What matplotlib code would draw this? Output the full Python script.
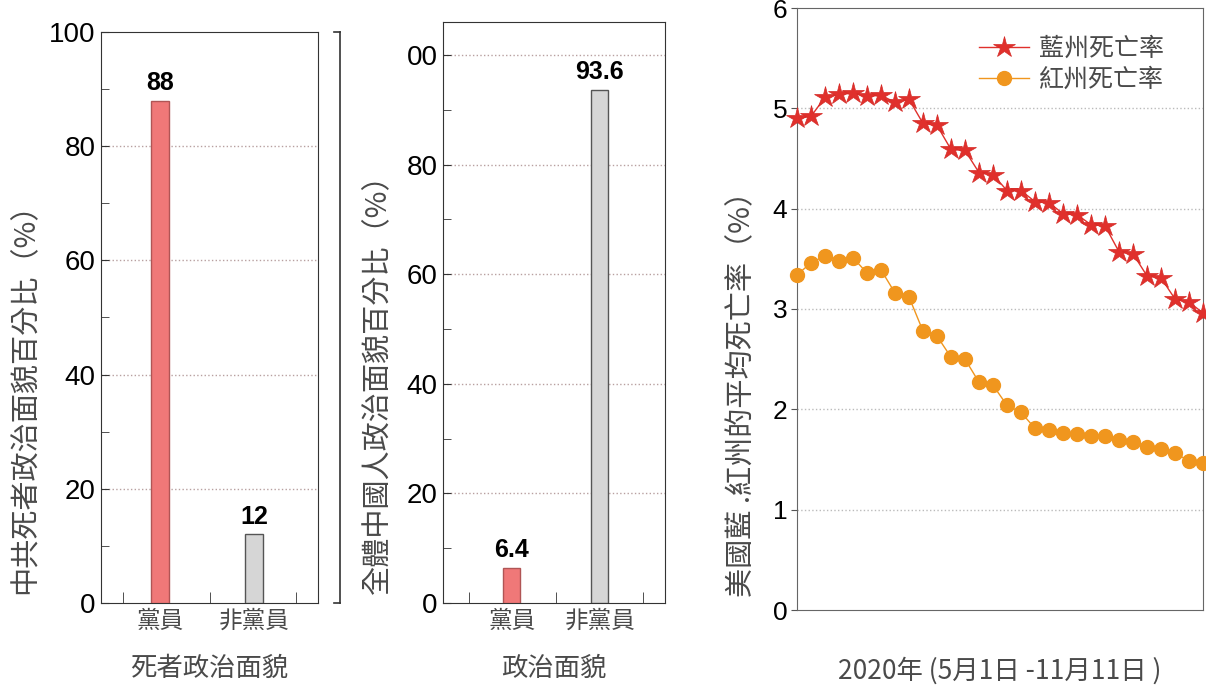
import matplotlib
matplotlib.use("Agg")
import matplotlib.pyplot as plt
from matplotlib.lines import Line2D

plt.rcParams['font.family'] = ['Liberation Sans', 'Noto Sans CJK TC', 'DejaVu Sans']

# data
cats = ['黨員', '非黨員']
dead_pct = [88, 12]
all_pct = [6.4, 93.6]
dead_labels = ['88', '12']
all_labels = ['6.4', '93.6']

blue_rate = [4.90, 4.92, 5.11, 5.14, 5.15, 5.12, 5.13, 5.06, 5.09, 4.85,
             4.83, 4.59, 4.58, 4.36, 4.34, 4.18, 4.18, 4.07, 4.06, 3.95,
             3.94, 3.84, 3.83, 3.57, 3.55, 3.33, 3.31, 3.10, 3.07, 2.96]
red_rate = [3.34, 3.46, 3.53, 3.48, 3.51, 3.36, 3.39, 3.16, 3.12, 2.78,
            2.73, 2.52, 2.50, 2.27, 2.24, 2.04, 1.97, 1.81, 1.79, 1.76,
            1.75, 1.73, 1.73, 1.69, 1.67, 1.62, 1.60, 1.56, 1.49, 1.47]

cjk = ['Noto Sans CJK TC', 'DejaVu Sans']
txt_gray = '#4a4a4a'
bar_colors = ['#f07878', '#d6d6d6']
bar_edges = ['#b05555', '#555555']

fig = plt.figure(figsize=(12.06, 6.9), dpi=100)


def bar_panel(rect, vals, labels, ylim, xlim, minor_x, ylabel, xlabel, ytl, grid_vals):
    ax = fig.add_axes(rect)
    pos = [1, 2]
    ax.bar(pos, vals, width=0.19, color=bar_colors, edgecolor=bar_edges, linewidth=1, zorder=3)
    for p, v, s in zip(pos, vals, labels):
        ax.text(p, v + 1.0, s, ha='center', va='bottom', fontsize=18, fontweight='bold', color='black')
    ax.set_xlim(*xlim)
    ax.set_ylim(*ylim)
    ax.set_xticks(pos)
    ax.set_xticklabels(cats, family=cjk, fontsize=17, color=txt_gray)
    ax.set_xticks(minor_x, minor=True)
    ax.tick_params(axis='x', which='major', length=0, pad=5)
    ax.tick_params(axis='x', which='minor', direction='in', length=8, color='#333333')
    ax.set_yticks([0, 20, 40, 60, 80, 100])
    ax.set_yticklabels(ytl, fontsize=20)
    ax.set_yticks([10, 30, 50, 70, 90], minor=True)
    ax.tick_params(axis='y', which='both', direction='in', length=6, color='#333333', pad=4)
    for g in grid_vals:
        ax.axhline(g, color='#b8a0a0', linestyle=':', linewidth=1, zorder=1)
    for sp in ax.spines.values():
        sp.set_color('#333333')
    ax.set_ylabel(ylabel, family=cjk, fontsize=21, color=txt_gray)
    ax.set_xlabel(xlabel, family=cjk, fontsize=19, color=txt_gray, labelpad=16)
    return ax


ax1 = bar_panel([101/1206, 1 - 603/690, 217/1206, 571/690], dead_pct, dead_labels,
                (0, 100), (0.37, 2.68), [0.6, 1.53, 2.45],
                '中共死者政治面貌百分比（%）', '死者政治面貌',
                ['0', '20', '40', '60', '80', '100'], [20, 40, 60, 80])
ax1.yaxis.set_label_coords(-0.281, 0.37)

ax2 = bar_panel([443/1206, 1 - 603/690, 222/1206, 581/690], all_pct, all_labels,
                (0, 106), (0.22, 2.74), [0.52, 1.5, 2.49],
                '全體中國人政治面貌百分比（%）', '政治面貌',
                ['0', '20', '40', '60', '80', '00'], [20, 40, 60, 80, 100])
ax2.yaxis.set_label_coords(-0.225, 0.39)

# leftover bracket beside the first panel
fig.add_artist(Line2D([340/1206, 340/1206], [1 - 32/690, 1 - 603/690], color='#333333', lw=1.2))
fig.add_artist(Line2D([334/1206, 340/1206], [1 - 32/690, 1 - 32/690], color='#333333', lw=1.2))
fig.add_artist(Line2D([334/1206, 340/1206], [1 - 603/690, 1 - 603/690], color='#333333', lw=1.2))

# line panel
ax3 = fig.add_axes([797/1206, 1 - 610/690, 406/1206, 602/690])
x = list(range(len(blue_rate)))
for g in [1, 2, 3, 4, 5]:
    ax3.axhline(g, color='#bbbbbb', linestyle=':', linewidth=1, zorder=1)
ax3.plot(x, blue_rate, color='#e0302c', lw=1, marker='*', markersize=16,
         markeredgecolor='#d52a26', markeredgewidth=0.5, label='藍州死亡率', zorder=4, clip_on=False)
ax3.plot(x, red_rate, color='#f0961e', lw=1, marker='o', markersize=10,
         markeredgecolor='#f0961e', label='紅州死亡率', zorder=4, clip_on=False)
ax3.set_xlim(0, 29)
ax3.set_ylim(0, 6)
ax3.set_xticks([])
ax3.set_yticks([0, 1, 2, 3, 4, 5, 6])
ax3.tick_params(axis='y', labelsize=19, length=4, color='#555555', pad=3)
for sp in ax3.spines.values():
    sp.set_color('#666666')
ax3.set_ylabel('美國藍 .紅州的平均死亡率（%）', family=cjk, fontsize=21, color=txt_gray)
ax3.yaxis.set_label_coords(-0.0985, 0.37)
ax3.set_xlabel('2020年 (5月1日 -11月11日 )', family=cjk, fontsize=19, color=txt_gray, labelpad=34)
leg = ax3.legend(loc='upper right', bbox_to_anchor=(0.935, 0.975), frameon=True, framealpha=1,
                 edgecolor='none', facecolor='white', prop={'family': cjk, 'size': 18},
                 handlelength=2.0, handletextpad=0.4, labelspacing=0.2, borderaxespad=0.2,
                 borderpad=0.3)
for t in leg.get_texts():
    t.set_color(txt_gray)

fig.savefig('out.png', dpi=100)
